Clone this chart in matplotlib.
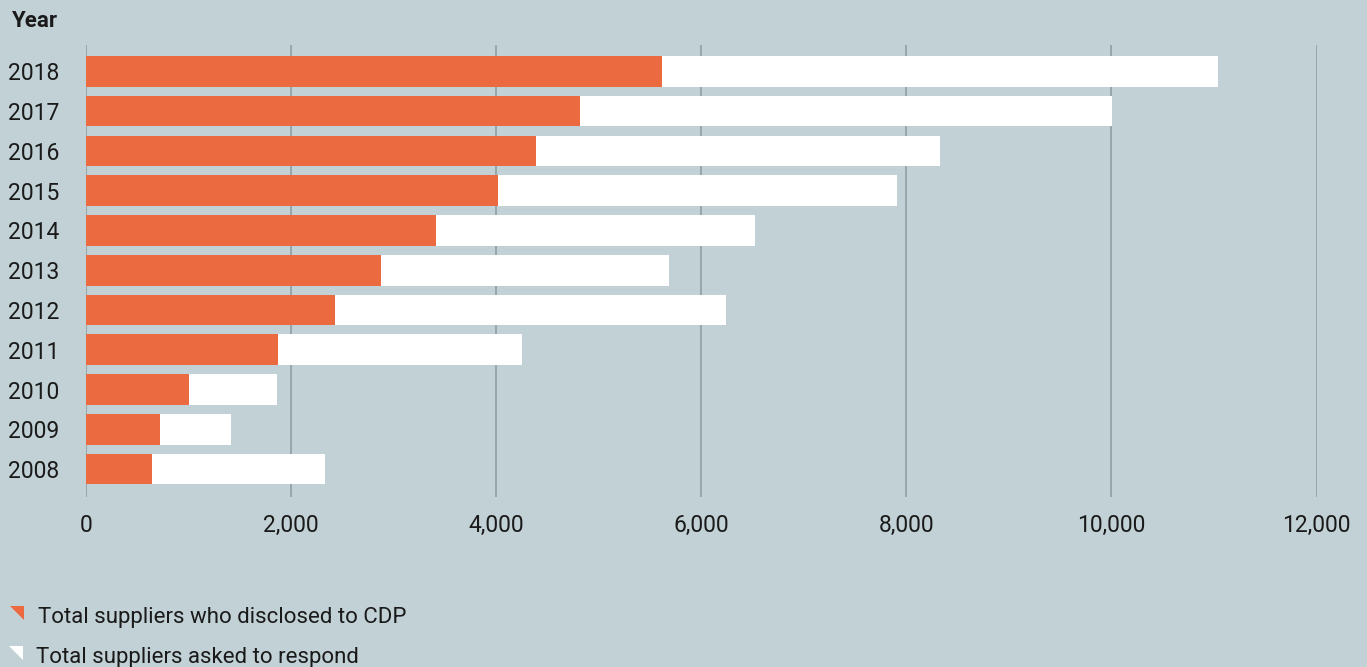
import matplotlib
matplotlib.use("Agg")
import matplotlib.pyplot as plt
from matplotlib.patches import Polygon

years = ["2008", "2009", "2010", "2011", "2012", "2013", "2014", "2015", "2016", "2017", "2018"]
disclosed = [644, 722, 1005, 1873, 2429, 2878, 3415, 4020, 4390, 4820, 5620]
asked = [2332, 1415, 1863, 4254, 6244, 5688, 6527, 7912, 8332, 10010, 11044]
xticks = [0, 2000, 4000, 6000, 8000, 10000, 12000]
xtick_labels = ["0", "2,000", "4,000", "6,000", "8,000", "10,000", "12,000"]
legend_labels = ["Total suppliers who disclosed to CDP", "Total suppliers asked to respond"]

BG = "#c2d1d5"
ORANGE = "#ec6a40"
WHITE = "#ffffff"
GRID = "#909fa4"
TXT = "#1a1a1a"

plt.rcParams['font.family'] = ['Roboto', 'DejaVu Sans']

W, H = 1367, 667
AX_L, AX_R, AX_T, AX_B = 86, 1316.5, 45, 497
fig = plt.figure(figsize=(W / 100, H / 100), dpi=100, facecolor=BG)
ax = fig.add_axes([AX_L / W, 1 - AX_B / H, (AX_R - AX_L) / W, (AX_B - AX_T) / H])
ax.set_facecolor(BG)

ypos = list(range(len(years)))
ax.barh(ypos, asked, height=0.77, color=WHITE, zorder=3)
ax.barh(ypos, disclosed, height=0.77, color=ORANGE, zorder=4)

ax.set_xlim(0, 12000)
ax.set_ylim(-0.70, 10.66)
ax.set_xticks(xticks)
ax.set_xticklabels(xtick_labels)
ax.set_yticks(ypos)
ax.set_yticklabels(years)
for x in xticks:
    ax.axvline(x, color=GRID, lw=1.2, zorder=2)
for s in ax.spines.values():
    s.set_visible(False)
ax.tick_params(axis='both', length=0, labelsize=16.5, labelcolor=TXT)
ax.tick_params(axis='x', pad=12)
ax.tick_params(axis='y', pad=19.5)

fig.text(12 / W, 1 - 21 / H, "Year", fontsize=16, fontweight='bold', color=TXT, va='center', ha='left')

# legend
def tri(x0, y0, color):
    pts = [(x0 / W, 1 - y0 / H), ((x0 + 14) / W, 1 - y0 / H), ((x0 + 14) / W, 1 - (y0 + 14) / H)]
    fig.add_artist(Polygon(pts, closed=True, facecolor=color, edgecolor='none', transform=fig.transFigure))

tri(10, 606, ORANGE)
tri(9, 646, WHITE)
fig.text(38 / W, 1 - 618 / H, legend_labels[0], fontsize=16, color=TXT, va='center', ha='left')
fig.text(36 / W, 1 - 658 / H, legend_labels[1], fontsize=16, color=TXT, va='center', ha='left')

fig.savefig("out.png", dpi=100, facecolor=BG)
